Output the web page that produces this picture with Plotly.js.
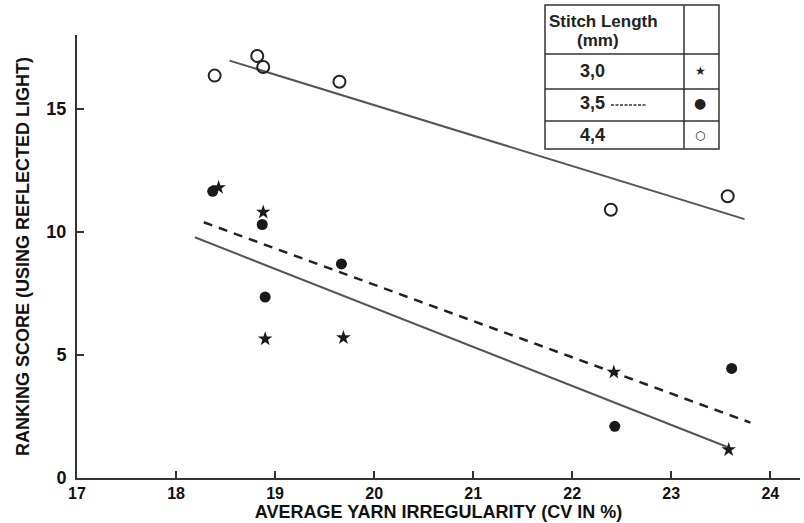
<!DOCTYPE html>
<html>
<head>
<meta charset="utf-8">
<script src="https://cdn.plot.ly/plotly-3.0.1.min.js"></script>
<style>html,body{margin:0;padding:0;background:#fff;}#chart{width:804px;height:523px;}</style>
</head>
<body>
<div id="chart"></div>
<script>
// Stitch length 3,0 mm (stars)
var s30_x = [18.43, 18.88, 18.90, 19.69, 22.42, 23.58];
var s30_y = [11.80, 10.80, 5.65, 5.70, 4.30, 1.15];
// Stitch length 3,5 mm (filled circles)
var s35_x = [18.37, 18.87, 18.90, 19.67, 22.43, 23.61];
var s35_y = [11.65, 10.30, 7.35, 8.70, 2.10, 4.45];
// Stitch length 4,4 mm (open circles)
var s44_x = [18.39, 18.82, 18.88, 19.65, 22.39, 23.57];
var s44_y = [16.35, 17.15, 16.70, 16.10, 10.90, 11.45];
// Fitted lines (end points)
var fit30_x = [18.19, 23.56];
var fit30_y = [9.78, 1.27];
var fit35_x = [18.28, 23.80];
var fit35_y = [10.39, 2.25];
var fit44_x = [18.54, 23.74];
var fit44_y = [16.96, 10.52];
// Axis ticks
var xTicks = [17, 18, 19, 20, 21, 22, 23, 24];
var yTicks = [0, 5, 10, 15];
// Legend table labels
var legendTitle = ["Stitch Length", "(mm)"];
var legendLabels = ["3,0", "3,5", "4,4"];
var legendSymbols = ["\u2605", "\u25CF", "\u25CB"];

var FONT = "Liberation Sans, Arial, Helvetica, sans-serif";
var ML = 77, MT = 35, W = 804, H = 523, MR = 4, MB = 45;
var PW = W - ML - MR, PH = H - MT - MB;
function px(x){ return (x - ML) / PW; }
function py(y){ return (H - MB - y) / PH; }
function bold(v){ return '<b>' + v + '</b>'; }

var traces = [
  {x: fit44_x, y: fit44_y, mode: 'lines', line: {color: '#555', width: 2}, hoverinfo: 'skip'},
  {x: fit35_x, y: fit35_y, mode: 'lines', line: {color: '#222', width: 2.5, dash: '9px,7px'}, hoverinfo: 'skip'},
  {x: fit30_x, y: fit30_y, mode: 'lines', line: {color: '#555', width: 2}, hoverinfo: 'skip'},
  {x: s44_x, y: s44_y, mode: 'markers', name: '4,4',
   marker: {symbol: 'circle-open', size: 12, color: '#222', line: {width: 2, color: '#222'}}},
  {x: s35_x, y: s35_y, mode: 'markers', name: '3,5',
   marker: {symbol: 'circle', size: 11, color: '#1a1a1a'}},
  {x: s30_x, y: s30_y, mode: 'markers', name: '3,0',
   marker: {symbol: 'star', size: 11, color: '#1a1a1a'}}
];

// legend table geometry (pixels)
var bx0 = 545, bx1 = 719, bdiv = 684, by0 = 5, by1 = 149;
var rowLines = [54, 89, 121];
var shapes = [
  {type: 'rect', xref: 'paper', yref: 'paper', x0: px(bx0), x1: px(bx1), y0: py(by1), y1: py(by0),
   line: {color: '#333', width: 1.5}, fillcolor: 'rgba(255,255,255,1)', layer: 'above'},
  {type: 'line', xref: 'paper', yref: 'paper', x0: px(bdiv), x1: px(bdiv), y0: py(by1), y1: py(by0),
   line: {color: '#333', width: 1.5}, layer: 'above'},
  {type: 'line', xref: 'paper', yref: 'paper', x0: px(611), x1: px(647), y0: py(105), y1: py(105),
   line: {color: '#333', width: 1.5, dash: '3px,1.5px'}, layer: 'above'}
];
rowLines.forEach(function(r){
  shapes.push({type: 'line', xref: 'paper', yref: 'paper', x0: px(bx0), x1: px(bx1), y0: py(r), y1: py(r),
    line: {color: '#333', width: 1.5}, layer: 'above'});
});

var rowCenters = [71, 103, 135];
var annotations = [
  {xref: 'paper', yref: 'paper', x: px(603), y: py(21), text: bold(legendTitle[0]),
   showarrow: false, xanchor: 'center', yanchor: 'middle', font: {family: FONT, size: 17, color: '#222'}},
  {xref: 'paper', yref: 'paper', x: px(598), y: py(40), text: bold(legendTitle[1]),
   showarrow: false, xanchor: 'center', yanchor: 'middle', font: {family: FONT, size: 17, color: '#222'}}
];
legendLabels.forEach(function(l, i){
  annotations.push({xref: 'paper', yref: 'paper', x: px(592), y: py(rowCenters[i]), text: bold(l),
    showarrow: false, xanchor: 'center', yanchor: 'middle', font: {family: FONT, size: 18, color: '#222'}});
  annotations.push({xref: 'paper', yref: 'paper', x: px(700), y: py(rowCenters[i]), text: legendSymbols[i],
    showarrow: false, xanchor: 'center', yanchor: 'middle', font: {family: 'DejaVu Sans', size: i === 1 ? 14 : 12, color: '#222'}});
});

var layout = {
  width: W, height: H,
  margin: {l: ML, r: MR, t: MT, b: MB, pad: 0},
  paper_bgcolor: '#fff', plot_bgcolor: '#fff',
  showlegend: false,
  font: {family: FONT, color: '#222'},
  xaxis: {
    range: [17, 24.3], tickvals: xTicks, ticktext: xTicks.map(bold),
    ticks: 'inside', ticklen: 7, tickwidth: 2, tickcolor: '#333',
    showline: true, linecolor: '#333', linewidth: 2, showgrid: false, zeroline: false,
    tickfont: {family: FONT, size: 16, color: '#111'},
    ticklabelstandoff: 0,
    title: {text: bold('AVERAGE YARN IRREGULARITY (CV IN %)'), font: {family: FONT, size: 18, color: '#111'}, standoff: 2}
  },
  yaxis: {
    range: [0, 18], tickvals: yTicks, ticktext: yTicks.map(bold),
    ticks: 'inside', ticklen: 7, tickwidth: 2, tickcolor: '#333',
    showline: true, linecolor: '#333', linewidth: 2, showgrid: false, zeroline: false,
    tickfont: {family: FONT, size: 18, color: '#111'},
    ticklabelstandoff: 5,
    title: {text: bold('RANKING SCORE (USING REFLECTED LIGHT)'), font: {family: FONT, size: 18, color: '#111'}, standoff: 12}
  },
  shapes: shapes,
  annotations: annotations
};

Plotly.newPlot('chart', traces, layout, {staticPlot: true, displayModeBar: false});
</script>
</body>
</html>
